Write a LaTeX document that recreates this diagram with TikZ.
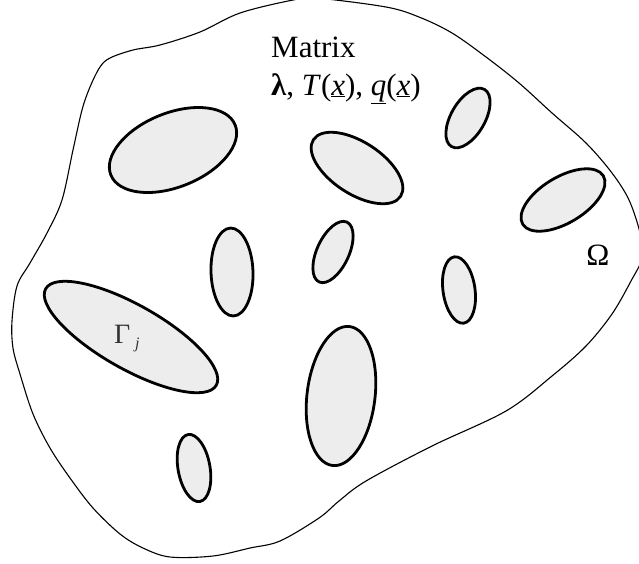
\documentclass[tikz,border=0pt]{standalone}
\usepackage{fontspec}
\setmainfont{Liberation Serif}
\begin{document}
\begin{tikzpicture}[x=1pt,y=-1pt,
  incl/.style={draw=black, line width=2.8pt, fill=black!7},
  outer/.style={draw=black, line width=1.1pt},
  lbl/.style={inner sep=0pt, font=\fontsize{31}{35}\selectfont}]
\useasboundingbox (0,0) rectangle (639,563);
\clip (0,0) rectangle (639,563);
\draw[outer] plot[smooth cycle, tension=0.55] coordinates {
 (316,-2) (386,7) (419,17) (452,33) (486,57) (519,83) (552,113) (586,143)
 (612,173) (629,200) (640,233) (642,258) (631,281) (612,314) (586,346)
 (552,376) (506,411) (432,446) (366,481) (339,501) (319,518) (280,541)
 (250,548) (213,556) (170,557) (143,548) (120,534) (93,508) (70,478)
 (50,448) (33,414) (20,374) (13,348) (12,321) (17,286) (30,263) (47,233)
 (62,200) (73,150) (82,110) (90,87) (100,67) (110,58) (133,50) (160,45)
 (200,32) (240,13) (293,0)};
% inclusions
\draw[incl, rotate around={22:(173,150)}] (173,150) ellipse [x radius=67, y radius=37];
\draw[incl, rotate around={-33:(357,168)}] (357,168) ellipse [x radius=52, y radius=26];
\draw[incl, rotate around={60:(468,118)}] (468,118) ellipse [x radius=33, y radius=17];
\draw[incl, rotate around={31:(563,200)}] (563,200) ellipse [x radius=47, y radius=23];
\draw[incl, rotate around={92:(232,272)}] (232,272) ellipse [x radius=44, y radius=21];
\draw[incl, rotate around={65:(333,252)}] (333,252) ellipse [x radius=33, y radius=16];
\draw[incl, rotate around={98:(459,290)}] (459,290) ellipse [x radius=33.5, y radius=16];
\draw[incl, rotate around={-29.5:(131,337)}] (131,337) ellipse [x radius=98, y radius=32];
\draw[incl, rotate around={83:(341,396)}] (341,396) ellipse [x radius=70, y radius=34];
\draw[incl, rotate around={100:(194,468)}] (194,468) ellipse [x radius=34, y radius=16];
% labels
\node[lbl, anchor=base west] (mat) at (271,57) {Matrix};
\node[lbl, anchor=base west] (prop) at (271,95) {\textbf{λ}, \textit{T}(\underline{\textit{x}}), \underline{\textit{q}}(\underline{\textit{x}})};
\node[lbl, anchor=base] (omega) at (598,265) {Ω};
\node[inner sep=0pt, anchor=base west, text=black!80, font=\fontsize{28}{32}\selectfont] (gam) at (114,343) {Γ\,\raisebox{-5pt}{\fontsize{16}{18}\selectfont\itshape j}};
\end{tikzpicture}
\end{document}
